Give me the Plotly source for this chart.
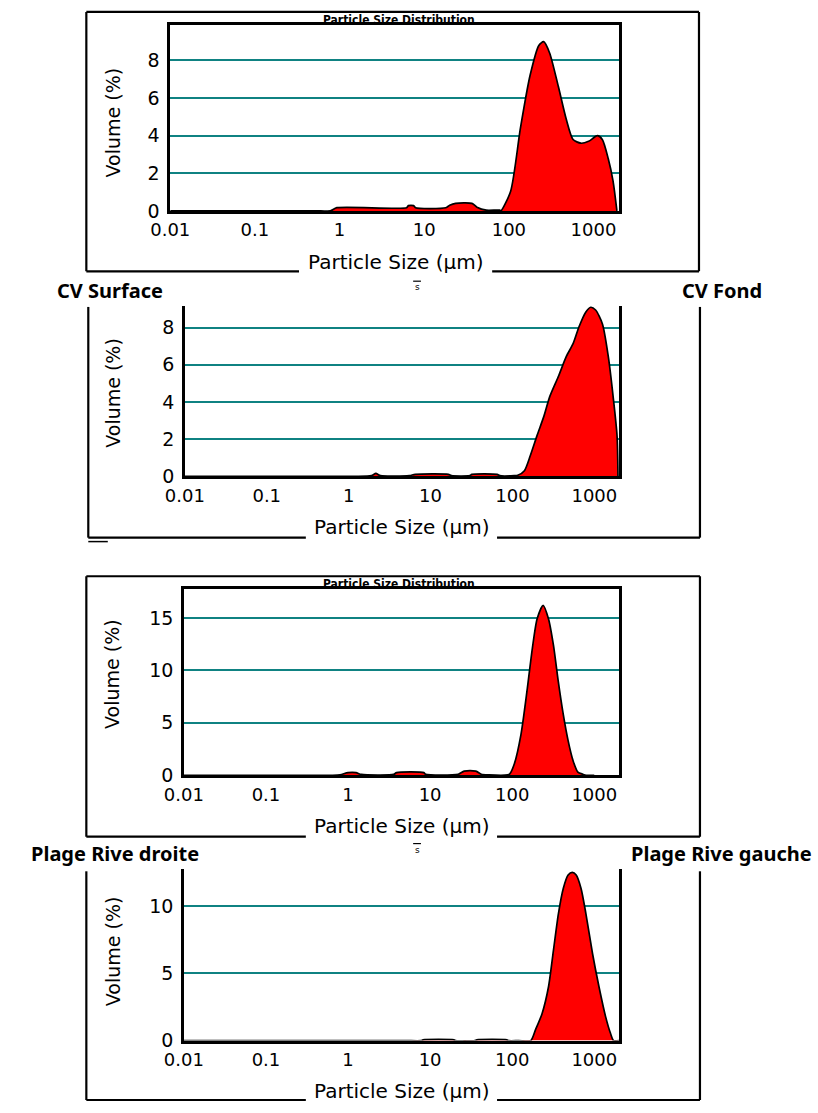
import math
import plotly.graph_objects as go

W, H = 818, 1113

# ---------------- data ----------------
x_tick_vals = [0.01, 0.1, 1, 10, 100, 1000]
x_tick_text = ["0.01", "0.1", "1", "10", "100", "1000"]

# CV Surface
size_cv_surface = [0.01, 0.1, 0.6, 0.78, 0.93, 6.2, 6.5, 7.5, 7.9, 18, 20, 23.5, 36.6, 42, 54, 78,
                   80.5, 105, 137, 178, 226, 258, 303, 385, 475, 573, 708, 875, 1111,
                   1270, 1489, 1700, 1890]
vol_cv_surface = [0, 0, 0, 0, 0.17, 0.17, 0.28, 0.28, 0.17, 0.17, 0.3, 0.4, 0.4, 0.2, 0.04, 0.04,
                  0, 1.05, 4.4, 7.2, 8.8, 9.0, 8.4, 6.6, 4.9, 3.8, 3.6, 3.7, 4.0,
                  3.8, 2.8, 1.6, 0]

# CV Fond
size_cv_fond = [0.01, 0.1, 0.8, 1.2, 1.9, 2.15, 2.45, 5.5, 6.5, 16.5, 18, 30, 31.9, 65, 70, 105,
                116, 140, 165, 200, 243, 286, 366, 455, 552, 650, 788, 903, 1036,
                1256, 1480, 1695, 1892, 1945]
vol_cv_fond = [0, 0, 0, 0, 0.03, 0.15, 0.03, 0.03, 0.1, 0.1, 0.03, 0.03, 0.1, 0.1, 0.03, 0.03,
               0.05, 0.3, 1.1, 2.2, 3.25, 4.3, 5.4, 6.45, 7.15, 8.05, 8.85, 9.1, 8.95,
               8.2, 6.45, 4.3, 2.2, 0]

# Plage Rive droite
size_rive_droite = [0.01, 0.1, 0.45, 0.65, 0.8, 1.0, 1.25, 1.45, 3.6, 3.9, 8.4, 8.8, 22, 26, 36, 42,
                    52, 88, 92.9, 106, 128, 153, 176, 201, 238, 277, 318, 365, 419,
                    480, 551, 631, 724, 800, 1000]
vol_rive_droite = [0, 0, 0, 0, 0.05, 0.25, 0.25, 0.08, 0.08, 0.25, 0.25, 0.1, 0.1, 0.4, 0.4, 0.1,
                   0.03, 0.03, 0.1, 1.07, 3.9, 8.3, 12.1, 14.9, 16.2, 14.9, 12.4, 8.9, 5.8,
                   3.3, 1.4, 0.3, 0.1, 0, 0]

# Plage Rive gauche
size_rive_gauche = [0.01, 0.1, 1, 5, 7.8, 8.2, 19.5, 20.5, 35, 37, 86, 90, 120, 168, 192, 231, 277, 318,
                    365, 419, 480, 540, 602, 690, 792, 953, 1141, 1371, 1572, 1722, 2000]
vol_rive_gauche = [0, 0, 0, 0, 0, 0.06, 0.06, 0, 0, 0.06, 0.06, 0, 0, 0, 0.8, 2.0, 4.0, 6.7,
                   9.4, 11.3, 12.3, 12.5, 12.3, 11.3, 9.4, 6.45, 4.0, 1.8, 0.56, 0, 0]

sample_labels = ["CV Surface", "CV Fond", "Plage Rive droite", "Plage Rive gauche"]


def px(x):
    return x / W


def py(y):
    return 1 - y / H


TICK_FONT = dict(family="DejaVu Sans", size=18, color="black")
VOL_FONT = dict(family="DejaVu Sans", size=19, color="black")
XTITLE_FONT = dict(family="DejaVu Sans", size=20, color="black")

panels = [
    dict(sizes=size_cv_surface, vols=vol_cv_surface, x0=154, x1=614, ybot=213, ytop=25,
         ymax=9.9, yticks=[0, 2, 4, 6, 8], top=True, ylab_y=124, xlab_x=385, xlab_y=265),
    dict(sizes=size_cv_fond, vols=vol_cv_fond, x0=169, x1=614, ybot=481, ytop=309,
         ymax=9.17, yticks=[0, 2, 4, 6, 8], top=False, ylab_y=397, xlab_x=391, xlab_y=532),
    dict(sizes=size_rive_droite, vols=vol_rive_droite, x0=168, x1=614, ybot=783, ytop=595,
         ymax=17.74, yticks=[0, 5, 10, 15], top=True, ylab_y=681, xlab_x=391, xlab_y=834),
    dict(sizes=size_rive_gauche, vols=vol_rive_gauche, x0=168, x1=614, ybot=1051, ytop=878,
         ymax=12.72, yticks=[0, 5, 10], top=False, ylab_y=961, xlab_x=391, xlab_y=1102),
]

fig = go.Figure()
layout = {}
annotations = []
shapes = []

for i, p in enumerate(panels, start=1):
    sfx = "" if i == 1 else str(i)
    fig.add_trace(go.Scatter(
        x=p["sizes"], y=p["vols"], xaxis="x" + sfx, yaxis="y" + sfx,
        mode="lines", fill="tozeroy", fillcolor="#ff0000",
        line=dict(color="black", width=1.7, shape="spline", smoothing=0.7),
        hoverinfo="skip", showlegend=False))
    layout["xaxis" + sfx] = dict(
        type="log", range=[-2, math.log10(2000)], domain=[px(p["x0"]), px(p["x1"])],
        anchor="y" + sfx, tickvals=x_tick_vals, ticktext=x_tick_text,
        showgrid=False, zeroline=False, showline=True, linecolor="black", linewidth=2.5,
        mirror=p["top"], ticks="", tickfont=TICK_FONT, ticklabelstandoff=1, fixedrange=True)
    layout["yaxis" + sfx] = dict(
        range=[0, p["ymax"]], domain=[py(p["ybot"]), py(p["ytop"])], anchor="x" + sfx,
        tickvals=p["yticks"], ticktext=[str(v) for v in p["yticks"]],
        showgrid=True, gridcolor="#0f8282", gridwidth=2, zeroline=False,
        showline=True, linecolor="black", linewidth=2.5, mirror=True, ticks="",
        tickfont=dict(family="DejaVu Sans", size=19, color="black"),
        ticklabelstandoff=4, fixedrange=True)
    annotations.append(dict(
        text="Volume (%)", x=px(95), y=py(p["ylab_y"]), xref="paper", yref="paper",
        textangle=-90, showarrow=False, font=VOL_FONT, xanchor="center", yanchor="middle"))
    annotations.append(dict(
        text="Particle Size (µm)", x=px(p["xlab_x"]), y=py(p["xlab_y"]), xref="paper", yref="paper",
        showarrow=False, font=XTITLE_FONT, xanchor="center", yanchor="middle"))


def seg(x0, y0, x1, y1, w=2.2):
    shapes.append(dict(type="line", xref="paper", yref="paper",
                       x0=px(x0), y0=py(y0), x1=px(x1), y1=py(y1),
                       line=dict(color="black", width=w)))


# frames around each chart
# chart 1
seg(68, 12, 696, 12)
seg(68, 12, 68, 274)
seg(696, 12, 696, 274)
seg(68, 274, 286, 274)
seg(484, 274, 696, 274)
# chart 2
seg(70, 310, 70, 543)
seg(697, 310, 697, 543)
seg(70, 543, 293, 543)
seg(489, 543, 697, 543)
seg(70, 547, 90, 547, 1.5)
# chart 3
seg(68, 582, 697, 582)
seg(68, 582, 68, 845)
seg(697, 582, 697, 845)
seg(68, 845, 293, 845)
seg(489, 845, 697, 845)
# chart 4
seg(68, 880, 68, 1111)
seg(697, 880, 697, 1111)
seg(68, 1111, 293, 1111)
seg(489, 1111, 697, 1111)

# small icons
for yy in (290, 858):
    seg(403, yy - 6, 411, yy - 6, 1.2)
    annotations.append(dict(text="s", x=px(407), y=py(yy), xref="paper", yref="paper",
                            showarrow=False, font=dict(family="DejaVu Sans", size=9, color="black"),
                            xanchor="center", yanchor="middle"))

# chart titles
for yy in (20, 590):
    annotations.append(dict(text="<b>Particle Size Distribution</b>", x=px(388), y=py(yy),
                            xref="paper", yref="paper", showarrow=False,
                            font=dict(family="Liberation Sans Narrow, DejaVu Sans Condensed, Liberation Sans",
                                      size=12, color="black"),
                            xanchor="center", yanchor="middle"))

# sample labels
LBL_FONT = dict(family="Noto Sans", size=20, color="black")
annotations.append(dict(text="<b>" + sample_labels[0] + "</b>", x=px(36), y=py(293), xref="paper", yref="paper",
                        showarrow=False, font=LBL_FONT, xanchor="left", yanchor="middle"))
annotations.append(dict(text="<b>" + sample_labels[1] + "</b>", x=px(763), y=py(293), xref="paper", yref="paper",
                        showarrow=False, font=LBL_FONT, xanchor="right", yanchor="middle"))
annotations.append(dict(text="<b>" + sample_labels[2] + "</b>", x=px(9), y=py(862), xref="paper", yref="paper",
                        showarrow=False, font=LBL_FONT, xanchor="left", yanchor="middle"))
annotations.append(dict(text="<b>" + sample_labels[3] + "</b>", x=px(814), y=py(862), xref="paper", yref="paper",
                        showarrow=False, font=LBL_FONT, xanchor="right", yanchor="middle"))

fig.update_layout(
    width=W, height=H, margin=dict(l=0, r=0, t=0, b=0),
    paper_bgcolor="white", plot_bgcolor="white",
    annotations=annotations, shapes=shapes, showlegend=False, **layout)

fig.write_html("out.html", config=dict(displayModeBar=False),
               post_script="document.body.style.margin='0';document.body.style.padding='0';"
                           "document.documentElement.style.overflow='hidden';")
